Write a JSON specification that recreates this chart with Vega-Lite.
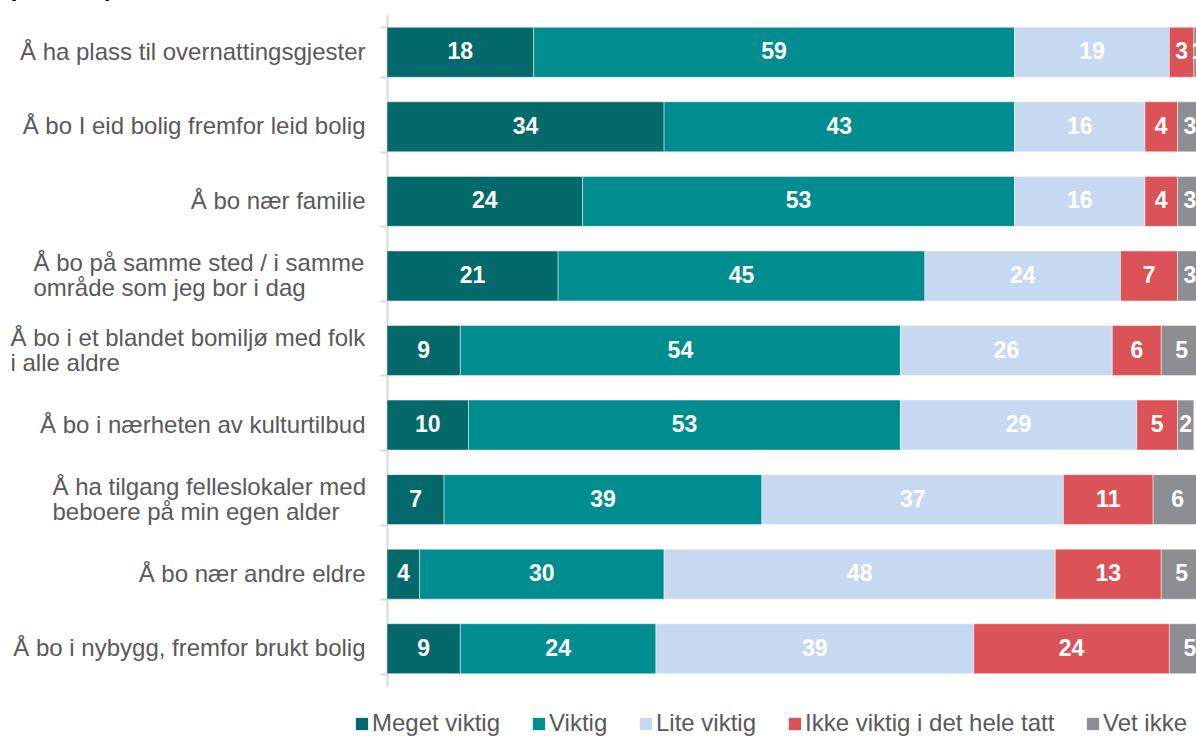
{
  "$schema": "https://vega.github.io/schema/vega-lite/v6.json",
  "autosize": {"type": "none"},
  "padding": {"left": 387, "top": 15, "right": 0, "bottom": 50},
  "width": 815,
  "height": 671,
  "title": {"text": "(Prosent)", "anchor": "start", "frame": "bounds", "fontSize": 24, "font": "Liberation Sans", "fontWeight": "bold", "color": "#000000", "offset": 3, "dy": 1, "dx": -2},
  "config": {"view": {"stroke": null}, "font": "Liberation Sans"},
  "data": {"values": [
    {"category": "Å ha plass til overnattingsgjester", "series": "Meget viktig", "order": 1, "value": 18},
    {"category": "Å ha plass til overnattingsgjester", "series": "Viktig", "order": 2, "value": 59},
    {"category": "Å ha plass til overnattingsgjester", "series": "Lite viktig", "order": 3, "value": 19},
    {"category": "Å ha plass til overnattingsgjester", "series": "Ikke viktig i det hele tatt", "order": 4, "value": 3},
    {"category": "Å ha plass til overnattingsgjester", "series": "Vet ikke", "order": 5, "value": 1},
    {"category": "Å bo I eid bolig fremfor leid bolig", "series": "Meget viktig", "order": 1, "value": 34},
    {"category": "Å bo I eid bolig fremfor leid bolig", "series": "Viktig", "order": 2, "value": 43},
    {"category": "Å bo I eid bolig fremfor leid bolig", "series": "Lite viktig", "order": 3, "value": 16},
    {"category": "Å bo I eid bolig fremfor leid bolig", "series": "Ikke viktig i det hele tatt", "order": 4, "value": 4},
    {"category": "Å bo I eid bolig fremfor leid bolig", "series": "Vet ikke", "order": 5, "value": 3},
    {"category": "Å bo nær familie", "series": "Meget viktig", "order": 1, "value": 24},
    {"category": "Å bo nær familie", "series": "Viktig", "order": 2, "value": 53},
    {"category": "Å bo nær familie", "series": "Lite viktig", "order": 3, "value": 16},
    {"category": "Å bo nær familie", "series": "Ikke viktig i det hele tatt", "order": 4, "value": 4},
    {"category": "Å bo nær familie", "series": "Vet ikke", "order": 5, "value": 3},
    {"category": "Å bo på samme sted / i samme|område som jeg bor i dag", "series": "Meget viktig", "order": 1, "value": 21},
    {"category": "Å bo på samme sted / i samme|område som jeg bor i dag", "series": "Viktig", "order": 2, "value": 45},
    {"category": "Å bo på samme sted / i samme|område som jeg bor i dag", "series": "Lite viktig", "order": 3, "value": 24},
    {"category": "Å bo på samme sted / i samme|område som jeg bor i dag", "series": "Ikke viktig i det hele tatt", "order": 4, "value": 7},
    {"category": "Å bo på samme sted / i samme|område som jeg bor i dag", "series": "Vet ikke", "order": 5, "value": 3},
    {"category": "Å bo i et blandet bomiljø med folk|i alle aldre", "series": "Meget viktig", "order": 1, "value": 9},
    {"category": "Å bo i et blandet bomiljø med folk|i alle aldre", "series": "Viktig", "order": 2, "value": 54},
    {"category": "Å bo i et blandet bomiljø med folk|i alle aldre", "series": "Lite viktig", "order": 3, "value": 26},
    {"category": "Å bo i et blandet bomiljø med folk|i alle aldre", "series": "Ikke viktig i det hele tatt", "order": 4, "value": 6},
    {"category": "Å bo i et blandet bomiljø med folk|i alle aldre", "series": "Vet ikke", "order": 5, "value": 5},
    {"category": "Å bo i nærheten av kulturtilbud", "series": "Meget viktig", "order": 1, "value": 10},
    {"category": "Å bo i nærheten av kulturtilbud", "series": "Viktig", "order": 2, "value": 53},
    {"category": "Å bo i nærheten av kulturtilbud", "series": "Lite viktig", "order": 3, "value": 29},
    {"category": "Å bo i nærheten av kulturtilbud", "series": "Ikke viktig i det hele tatt", "order": 4, "value": 5},
    {"category": "Å bo i nærheten av kulturtilbud", "series": "Vet ikke", "order": 5, "value": 2},
    {"category": "Å ha tilgang felleslokaler med|beboere på min egen alder", "series": "Meget viktig", "order": 1, "value": 7},
    {"category": "Å ha tilgang felleslokaler med|beboere på min egen alder", "series": "Viktig", "order": 2, "value": 39},
    {"category": "Å ha tilgang felleslokaler med|beboere på min egen alder", "series": "Lite viktig", "order": 3, "value": 37},
    {"category": "Å ha tilgang felleslokaler med|beboere på min egen alder", "series": "Ikke viktig i det hele tatt", "order": 4, "value": 11},
    {"category": "Å ha tilgang felleslokaler med|beboere på min egen alder", "series": "Vet ikke", "order": 5, "value": 6},
    {"category": "Å bo nær andre eldre", "series": "Meget viktig", "order": 1, "value": 4},
    {"category": "Å bo nær andre eldre", "series": "Viktig", "order": 2, "value": 30},
    {"category": "Å bo nær andre eldre", "series": "Lite viktig", "order": 3, "value": 48},
    {"category": "Å bo nær andre eldre", "series": "Ikke viktig i det hele tatt", "order": 4, "value": 13},
    {"category": "Å bo nær andre eldre", "series": "Vet ikke", "order": 5, "value": 5},
    {"category": "Å bo i nybygg, fremfor brukt bolig", "series": "Meget viktig", "order": 1, "value": 9},
    {"category": "Å bo i nybygg, fremfor brukt bolig", "series": "Viktig", "order": 2, "value": 24},
    {"category": "Å bo i nybygg, fremfor brukt bolig", "series": "Lite viktig", "order": 3, "value": 39},
    {"category": "Å bo i nybygg, fremfor brukt bolig", "series": "Ikke viktig i det hele tatt", "order": 4, "value": 24},
    {"category": "Å bo i nybygg, fremfor brukt bolig", "series": "Vet ikke", "order": 5, "value": 5}
  ]},
  "transform": [
    {"stack": "value", "groupby": ["category"], "sort": [{"field": "order"}], "as": ["x0", "x1"]},
    {"calculate": "(datum.x0 + datum.x1) / 2", "as": "xmid"}
  ],
  "encoding": {
    "y": {
      "field": "category", "type": "nominal", "sort": null,
      "scale": {"paddingInner": 0.33, "paddingOuter": 0.165},
      "axis": {
        "title": null,
        "labelExpr": "split(datum.label, '|')",
        "labelFont": "Liberation Sans",
        "labelFontSize": 24,
        "labelColor": "#595959",
        "labelLineHeight": 25,
        "labelPadding": 15,
        "labelLimit": 500,
        "domainColor": "#D9D9D9",
        "domainWidth": 2,
        "tickColor": "#D9D9D9",
        "tickWidth": 2,
        "tickSize": 7,
        "tickBand": "extent",
        "encoding": {
          "labels": {
            "align": {
              "condition": {"test": "datum.value === 'Å bo på samme sted / i samme|område som jeg bor i dag' || datum.value === 'Å bo i et blandet bomiljø med folk|i alle aldre' || datum.value === 'Å ha tilgang felleslokaler med|beboere på min egen alder'", "value": "left"},
              "value": "right"
            },
            "dy": {
              "condition": {"test": "datum.value === 'Å bo på samme sted / i samme|område som jeg bor i dag' || datum.value === 'Å bo i et blandet bomiljø med folk|i alle aldre' || datum.value === 'Å ha tilgang felleslokaler med|beboere på min egen alder'", "value": -12.5},
              "value": 0
            },
            "dx": {
              "condition": [
                {"test": "datum.value === 'Å bo på samme sted / i samme|område som jeg bor i dag'", "value": -332},
                {"test": "datum.value === 'Å bo i et blandet bomiljø med folk|i alle aldre'", "value": -355},
                {"test": "datum.value === 'Å ha tilgang felleslokaler med|beboere på min egen alder'", "value": -313}
              ],
              "value": 0
            }
          }
        }
      }
    }
  },
  "layer": [
    {
      "mark": {"type": "bar", "stroke": "#ffffff", "strokeOpacity": 0.45, "strokeWidth": 1},
      "encoding": {
        "x": {"field": "x0", "type": "quantitative", "scale": {"domain": [0, 100], "nice": false}, "axis": null},
        "x2": {"field": "x1"},
        "color": {
          "field": "series", "type": "nominal",
          "scale": {
            "domain": ["Meget viktig", "Viktig", "Lite viktig", "Ikke viktig i det hele tatt", "Vet ikke"],
            "range": ["#03696B", "#008D8F", "#C6D9F0", "#DB5356", "#8C8E93"]
          },
          "legend": {
            "title": null,
            "orient": "none",
            "direction": "horizontal",
            "legendX": -37,
            "legendY": 697,
            "symbolType": "square",
            "symbolSize": 150,
            "symbolStrokeWidth": 0,
            "symbolOpacity": 1,
            "labelFont": "Liberation Sans",
            "labelFontSize": 24,
            "labelColor": "#595959",
            "labelOffset": -2,
            "columnPadding": 26,
            "labelLimit": 400
          }
        }
      }
    },
    {
      "mark": {"type": "text", "color": "#ffffff", "fontWeight": "bold", "fontSize": 23, "font": "Liberation Sans", "baseline": "middle", "align": "center"},
      "encoding": {
        "x": {"field": "xmid", "type": "quantitative"},
        "text": {"field": "value", "type": "quantitative"}
      }
    }
  ]
}
